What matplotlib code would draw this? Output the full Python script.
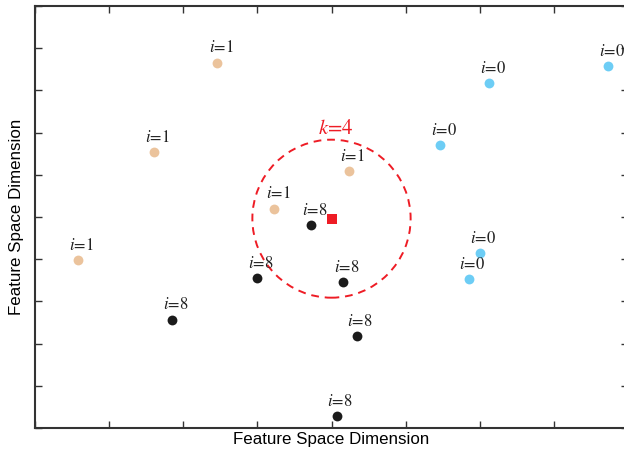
import numpy as np
import matplotlib.pyplot as plt
from matplotlib.patches import Ellipse

plt.rcParams['mathtext.fontset'] = 'stix'

# class i=1 (beige), i=0 (blue), i=8 (black)
x_c1 = [2.46, 1.60, 3.23, 4.24, 0.58]
y_c1 = [8.66, 6.53, 5.20, 6.09, 3.98]
x_c0 = [7.73, 6.13, 5.47, 6.00, 5.85]
y_c0 = [8.58, 8.18, 6.70, 4.14, 3.53]
x_c8 = [3.73, 3.00, 4.16, 1.85, 4.34, 4.07]
y_c8 = [4.81, 3.56, 3.45, 2.57, 2.18, 0.28]
query = (4.0, 4.96)
k = 4

fig = plt.figure(figsize=(6.24, 4.58), dpi=100)
ax = fig.add_axes([35 / 624, 30 / 458, 593 / 624, 422 / 458])

ax.scatter(x_c1, y_c1, s=50, color='#EBC39C', zorder=3, linewidths=0)
ax.scatter(x_c0, y_c0, s=50, color='#6DCDF5', zorder=3, linewidths=0)
ax.scatter(x_c8, y_c8, s=50, color='#1b1b1b', zorder=3, linewidths=0)
ax.scatter([query[0]], [query[1]], s=50, marker='s', color='#EE1C25', zorder=4, linewidths=0)

lbl = dict(ha='center', va='bottom', fontsize=12, family='STIXGeneral', color='#222222')
for xs, ys, n in [(x_c1, y_c1, 1), (x_c0, y_c0, 0), (x_c8, y_c8, 8)]:
    for x, y in zip(xs, ys):
        ax.annotate(f'$i$={n}', (x, y), xytext=(2.5, 4.5), textcoords='offset points', **lbl)

# radius ~79 px on screen -> ellipse in data units
ax.add_patch(Ellipse(query, width=2 * 79 / 74, height=2 * 79 / 42.2, fill=False,
                     edgecolor='#EE1C25', linestyle=(0, (4, 3)), linewidth=1.4, zorder=2))
ax.text(query[0] + 0.06, query[1] + 1.9, f'$k$={k}', ha='center', va='bottom',
        fontsize=15, family='STIXGeneral', color='#EE1C25')

ax.set_xlim(0, 8)
ax.set_ylim(0, 10)
ax.set_xticks(np.arange(0, 9, 1))
ax.set_yticks(np.arange(0, 11, 1))
ax.tick_params(direction='in', length=5, width=1, color='#333333',
               top=True, right=True, labelbottom=False, labelleft=False)
for sp in ax.spines.values():
    sp.set_linewidth(1.5)
    sp.set_color('#333333')

ax.set_xlabel('Feature Space Dimension', fontsize=12.2, family='Liberation Sans', labelpad=3)
ax.set_ylabel('Feature Space Dimension', fontsize=12.2, family='Liberation Sans', labelpad=8)

fig.savefig('out.png', dpi=100)
